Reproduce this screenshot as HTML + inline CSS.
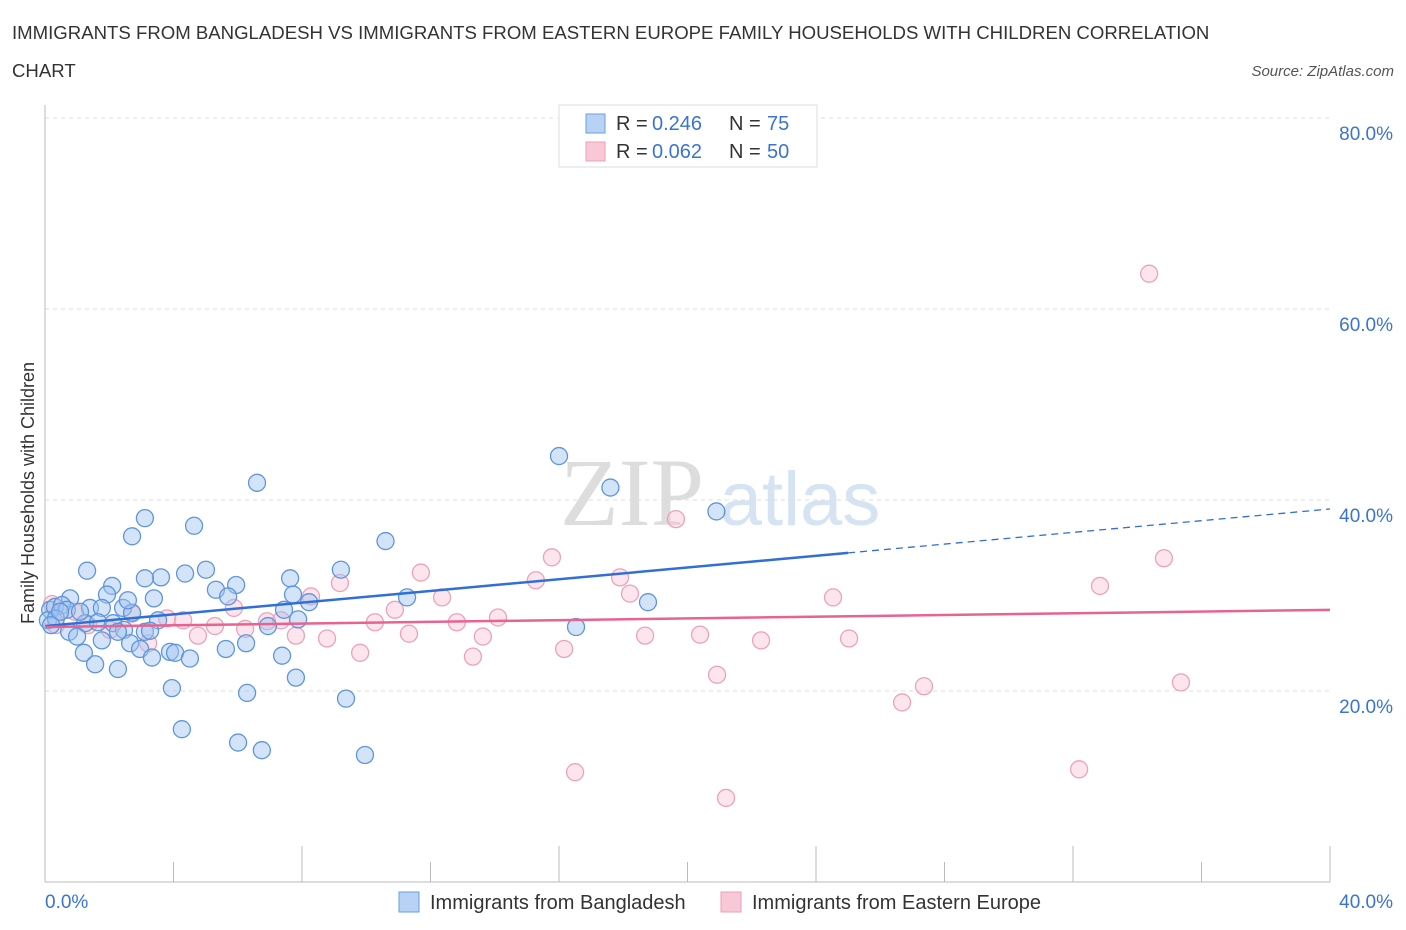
<!DOCTYPE html>
<html><head><meta charset="utf-8"><style>
body{margin:0;background:#fff;font-family:"Liberation Sans",sans-serif;}
svg{display:block}
</style></head><body>
<svg width="1406" height="930" id="c">
<text x="12" y="39" font-size="18.6" fill="#333">IMMIGRANTS FROM BANGLADESH VS IMMIGRANTS FROM EASTERN EUROPE FAMILY HOUSEHOLDS WITH CHILDREN CORRELATION</text>
<text x="12" y="77" font-size="18.6" fill="#333">CHART</text>
<text x="1394" y="76" font-size="15" fill="#555" font-style="italic" text-anchor="end">Source: ZipAtlas.com</text>
<g><text x="632" y="525" font-size="96" fill="#ddd" font-family="Liberation Serif" text-anchor="middle">ZIP</text><text x="800" y="525" font-size="76" fill="#d5e3f3" text-anchor="middle">atlas</text></g>
<g id="grid"></g><g id="pts"></g><g id="trend"></g>
<text x="34" y="493" font-size="18" fill="#333" text-anchor="middle" transform="rotate(-90 34 493)">Family Households with Children</text>
<g>
<rect x="559" y="105" width="258" height="62" fill="#fff" stroke="#ddd"/>
<rect x="586" y="114" width="19" height="19" fill="#b8d2f5" stroke="#6a9ee0"/>
<rect x="586" y="142" width="19" height="19" fill="#f9c8d6" stroke="#eaa0b8"/>
<text x="616" y="130" font-size="20" fill="#333">R =</text><text x="652" y="130" font-size="20" fill="#3a74d0">0.246</text>
<text x="729" y="130" font-size="20" fill="#333">N =</text><text x="767" y="130" font-size="20" fill="#3a74d0">75</text>
<text x="616" y="158" font-size="20" fill="#333">R =</text><text x="652" y="158" font-size="20" fill="#3a74d0">0.062</text>
<text x="729" y="158" font-size="20" fill="#333">N =</text><text x="767" y="158" font-size="20" fill="#3a74d0">50</text>
</g>
<g>
<rect x="399" y="892" width="20" height="20" fill="#b8d2f5" stroke="#6a9ee0"/>
<text x="430" y="909" font-size="20" fill="#333">Immigrants from Bangladesh</text>
<rect x="721" y="892" width="20" height="20" fill="#f9c8d6" stroke="#eaa0b8"/>
<text x="752" y="909" font-size="20" fill="#333">Immigrants from Eastern Europe</text>
</g>
</svg>
<script>
const yTicks=[20,40,60,80];
const xTickLabels=["0.0%","40.0%"];
const blueX=[3.11,4.64,2.71,6.60,16.0,17.6,20.9,10.6,1.31,9.21,5.01,3.61,3.11,4.36,5.95,2.09,7.63,0.78,1.93,3.39,5.32,5.70,7.72,8.22,11.27,18.77,0.16,0.31,0.53,0.68,1.40,1.77,2.43,7.44,7.88,3.52,2.71,1.25,1.65,2.12,2.46,3.11,3.27,0.75,1.00,1.77,2.65,2.96,6.26,6.94,16.53,5.63,1.21,3.33,3.89,4.05,4.51,7.38,1.56,2.27,3.95,7.81,6.29,9.37,4.26,6.01,6.75,9.96,0.09,0.34,0.47,0.19,1.09,2.27,2.58];
const blueY=[38.1,37.3,36.2,41.8,44.6,41.3,38.8,35.7,32.6,32.7,32.7,31.9,31.8,32.3,31.1,31.0,31.8,29.7,30.1,29.7,30.6,29.9,30.1,29.3,29.8,29.3,28.5,28.8,29.0,28.5,28.7,28.7,28.7,28.5,27.5,27.4,28.2,27.1,27.2,27.1,26.4,26.2,26.3,26.2,25.7,25.3,25.0,24.4,25.0,26.8,26.7,24.4,24.0,23.5,24.1,24.0,23.4,23.7,22.8,22.3,20.3,21.4,19.8,19.2,16.0,14.6,13.8,13.3,27.4,27.6,28.3,26.9,28.3,26.2,29.5];
const pinkX=[34.37,19.64,15.78,34.83,11.70,15.28,17.90,32.84,9.18,18.21,12.36,24.53,8.28,5.88,10.89,14.10,3.80,4.30,6.91,10.27,12.82,2.71,5.29,6.23,7.35,7.81,11.33,13.63,8.78,4.76,18.68,20.39,22.29,25.03,16.16,9.81,13.32,20.92,27.36,35.36,26.68,16.50,21.20,32.19,0.22,0.34,0.93,2.02,3.21,1.34];
const pinkY=[63.7,38.0,34.0,33.9,32.4,31.6,31.9,31.0,31.3,30.2,29.8,29.8,29.9,28.7,28.5,27.7,27.6,27.4,27.3,27.2,27.2,28.1,26.8,26.5,27.4,25.8,26.0,25.7,25.5,25.8,25.8,25.9,25.3,25.5,24.4,24.0,23.6,21.7,20.5,20.9,18.8,11.5,8.8,11.8,29.1,26.9,28.3,26.4,25.0,26.9];
const blueTrend=[26.8,39.06], blueSolidEnd=25;
const pinkTrend=[26.7,28.5];
const NS="http://www.w3.org/2000/svg";
const X=v=>45+v*32.125, Y=v=>882-v*9.55;
function mk(p,tag,a){const e=document.createElementNS(NS,tag);for(const k in a)e.setAttribute(k,a[k]);p.appendChild(e);return e;}
const g=document.getElementById('grid');
yTicks.forEach(t=>{const l=mk(g,'line',{x1:45,x2:1330,y1:Y(t),y2:Y(t),stroke:'#ddd','stroke-dasharray':'4,4'});


const tx=mk(g,'text',{x:1393,y:Y(t)+22,'font-size':19,fill:'#3a74d0','text-anchor':'end'});tx.textContent=t.toFixed(1)+'%';

});
mk(g,'line',{x1:45,x2:45,y1:105,y2:882,stroke:'#bbb'});
mk(g,'line',{x1:45,x2:1330,y1:882,y2:882,stroke:'#bbb'});
for(let i=0;i<=10;i++){const t=mk(g,'line',{x1:X(i*4),x2:X(i*4),y1:882,y2:i%2?862:846,stroke:'#bbb'});

}
[[0,'start',45],[40,'end',1393]].forEach((d,i)=>{const t=mk(g,'text',{x:d[2],y:908,'font-size':19,fill:'#3a74d0','text-anchor':d[1]});t.textContent=xTickLabels[i];

});
const p=document.getElementById('pts');
pinkX.forEach((x,i)=>{const c=mk(p,'circle',{cx:X(x),cy:Y(pinkY[i]),r:8.5,fill:'rgba(246,180,200,0.35)',stroke:'#eba3ba','stroke-width':1.3});

});
blueX.forEach((x,i)=>{const c=mk(p,'circle',{cx:X(x),cy:Y(blueY[i]),r:8.5,fill:'rgba(160,196,240,0.45)',stroke:'#5f95dc','stroke-width':1.3});

});
const tr=document.getElementById('trend');
const bAt=x=>blueTrend[0]+(blueTrend[1]-blueTrend[0])*x/40;
let l=mk(tr,'line',{x1:X(0),y1:Y(bAt(0)),x2:X(blueSolidEnd),y2:Y(bAt(blueSolidEnd)),stroke:'#2f6fd6','stroke-width':2.5});


l=mk(tr,'line',{x1:X(blueSolidEnd),y1:Y(bAt(blueSolidEnd)),x2:X(40),y2:Y(bAt(40)),stroke:'#2f6fd6','stroke-width':1.3,'stroke-dasharray':'7,5'});


l=mk(tr,'line',{x1:X(0),y1:Y(pinkTrend[0]),x2:X(40),y2:Y(pinkTrend[1]),stroke:'#e8638f','stroke-width':2.5});


</script>
</body></html>
